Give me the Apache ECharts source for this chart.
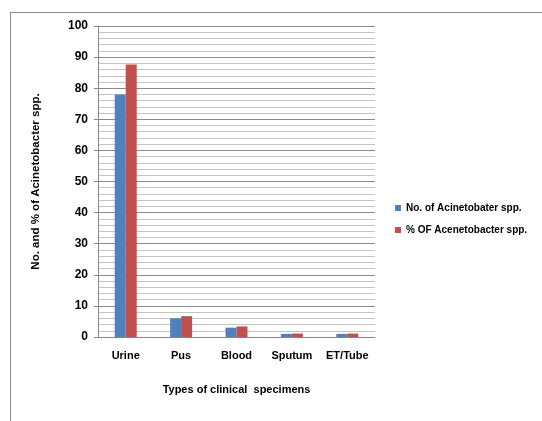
<!DOCTYPE html>
<html>
<head>
<meta charset="utf-8">
<script src="https://cdn.jsdelivr.net/npm/echarts@6/dist/echarts.min.js"></script>
<style>
  body { margin: 0; background: #fff; }
  #frame { position: absolute; left: 10px; top: 12px; width: 540px; height: 420px; border-left: 1px solid #888; border-top: 1px solid #888; }
  #chart { position: absolute; left: 0; top: 0; width: 542px; height: 421px; }
</style>
</head>
<body>
<div id="frame"></div>
<div id="chart"></div>
<script>
// specimen types
const categories = ['Urine', 'Pus', 'Blood', 'Sputum', 'ET/Tube']
// counts and percentages
const countValues = [78, 6, 3, 1, 1]
const percentValues = [87.6, 6.7, 3.4, 1.1, 1.1]
const seriesNames = ['No. of Acinetobater spp.', '% OF Acenetobacter spp.']

let myChart = echarts.init(document.getElementById('chart'))

const labelFont = {fontFamily: 'Liberation Sans', fontWeight: 'bold', fontSize: 11, color: '#000'}

let option = {
  animation: false,
  grid: {left: 98, right: 167, top: 26, bottom: 84},
  legend: {
    orient: 'vertical',
    left: 390,
    top: 198,
    itemWidth: 6,
    itemHeight: 6,
    itemGap: 12,
    icon: 'rect',
    textStyle: {fontFamily: 'Liberation Sans', fontWeight: 'bold', fontSize: 10, color: '#000'},
    data: seriesNames
  },
  xAxis: {
    type: 'category',
    data: categories,
    name: 'Types of clinical  specimens',
    nameLocation: 'middle',
    nameGap: 47,
    nameTextStyle: labelFont,
    axisLine: {lineStyle: {color: '#888'}},
    axisTick: {show: false},
    axisLabel: Object.assign({margin: 13}, labelFont)
  },
  yAxis: {
    type: 'value',
    min: 0,
    max: 100,
    interval: 10,
    name: 'No. and % of Acinetobacter spp.',
    nameLocation: 'middle',
    nameGap: 56,
    nameTextStyle: Object.assign({}, labelFont, {fontSize: 11.5}),
    axisLine: {show: true, lineStyle: {color: '#888'}},
    axisTick: {show: true, length: 4, lineStyle: {color: '#888'}},
    axisLabel: Object.assign({margin: 10}, labelFont, {fontSize: 12}),
    splitLine: {lineStyle: {color: '#8a8a8a', width: 1}},
    minorTick: {show: false, splitNumber: 5},
    minorSplitLine: {show: true, lineStyle: {color: '#c4c4c4', width: 1}}
  },
  series: [
    {
      name: seriesNames[0],
      type: 'bar',
      data: countValues,
      barWidth: 11,
      barGap: '0%',
      itemStyle: {color: '#4f81bd'}
    },
    {
      name: seriesNames[1],
      type: 'bar',
      data: percentValues,
      barWidth: 11,
      barGap: '0%',
      itemStyle: {color: '#c0504d'}
    }
  ]
}

myChart.setOption(option)
</script>
</body>
</html>
